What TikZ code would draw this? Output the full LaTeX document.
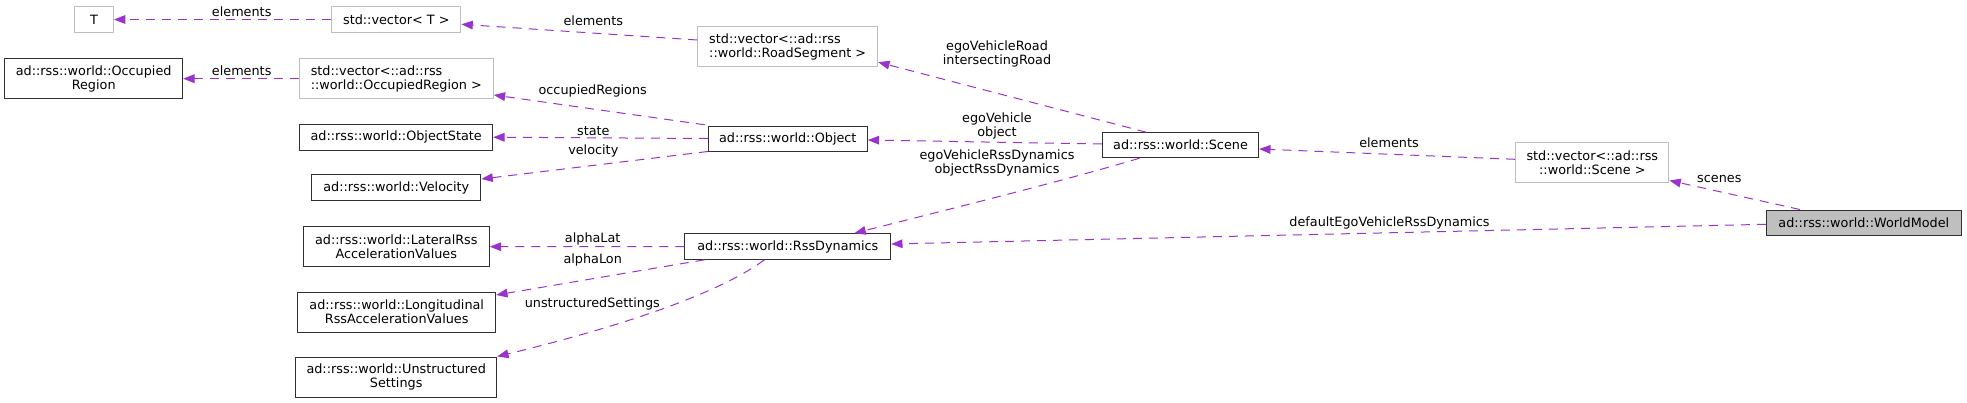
\documentclass[tikz,border=0pt]{standalone}
\usepackage{fontspec}
\setmainfont{DejaVu Sans}
\usetikzlibrary{arrows.meta,calc}
\definecolor{edgec}{HTML}{9A32CD}
\definecolor{tmplc}{HTML}{BFBFBF}
\definecolor{boxc}{HTML}{303030}
\begin{document}
\begin{tikzpicture}[x=0.75pt,y=-0.75pt,
  font=\fontsize{9.6pt}{10.7pt}\selectfont,
  cls/.style={draw=boxc, line width=0.75pt, inner sep=0pt, align=center, fill=white},
  tmpl/.style={draw=tmplc, line width=0.75pt, inner sep=0pt, fill=white},
  sel/.style={cls, fill=tmplc},
  sz/.style 2 args={minimum width=#1*0.75pt, minimum height=#2*0.75pt},
  rel/.style={draw=edgec, line width=0.75pt, dash pattern=on 6.75pt off 5.25pt, -{Triangle[length=8.5pt,width=6.5pt]}},
  lbl/.style={inner sep=0pt, align=center}]
\path[use as bounding box] (0,0) rectangle (1967,403);

% nodes
\node[tmpl, sz={39}{25.7}, align=center] (T) at (94,19.5) {T};
\node[tmpl, sz={129.3}{25.7}, align=center] (vecT) at (396.3,19.5) {std::vector< T >};
\node[cls, sz={178}{40}] (OccReg) at (93.7,78.7) {ad::rss::world::Occupied\\Region};
\node[tmpl, sz={194}{40}, align=left] (vecOR) at (396.3,78.7) {std::vector<::ad::rss\\::world::OccupiedRegion >};
\node[cls, sz={193}{25.7}] (ObjState) at (396.2,137.2) {ad::rss::world::ObjectState};
\node[cls, sz={169.3}{26}] (Velocity) at (396.3,187.7) {ad::rss::world::Velocity};
\node[cls, sz={186}{40}] (Lateral) at (396.3,246.7) {ad::rss::world::LateralRss\\AccelerationValues};
\node[cls, sz={198}{40}] (Longitudinal) at (396.7,312) {ad::rss::world::Longitudinal\\RssAccelerationValues};
\node[cls, sz={201}{40}] (Unstructured) at (396.2,377) {ad::rss::world::Unstructured\\Settings};
\node[tmpl, sz={180}{40}, align=left] (vecRS) at (787.7,46.7) {std::vector<::ad::rss\\::world::RoadSegment >};
\node[cls, sz={159}{25}] (Object) at (787.8,138.5) {ad::rss::world::Object};
\node[cls, sz={205.7}{25.6}] (RssDyn) at (787.8,246.5) {ad::rss::world::RssDynamics};
\node[cls, sz={156.3}{25}] (Scene) at (1180.5,145.2) {ad::rss::world::Scene};
\node[tmpl, sz={153.3}{40}, align=center] (vecScene) at (1592.3,162.7) {std::vector<::ad::rss\\::world::Scene >};
\node[sel, sz={195}{25}] (WorldModel) at (1863.8,222.5) {ad::rss::world::WorldModel};

% connectors
\draw[rel] (vecT.west) -- (T.east);
\draw[rel] ($(vecRS.west)+(0,-6.7)$) -- ($(vecT.east)+(0,4.8)$);
\draw[rel] (vecOR.west) -- (OccReg.east);
\draw[rel] ($(Object.north west)+(-3,-0.7)$) -- ($(vecOR.east)+(0,16.3)$);
\draw[rel] (Object.west) -- (ObjState.east);
\draw[rel] (Object.south west) -- ($(Velocity.east)+(0,-8.7)$);
\draw[rel] ($(Scene.north west)+(44.4,0)$) -- ($(vecRS.south east)+(0,-5)$);
\draw[rel] ($(Scene.west)+(0,-1.2)$) -- ($(Object.east)+(0,1.5)$);
\draw[rel] ($(Scene.south west)+(37.7,0)$) .. controls (1060,182) and (930,214) .. ($(RssDyn.north west)+(170,0)$);
\draw[rel] ($(vecScene.west)+(0,-3.4)$) -- ($(Scene.east)+(0,3.8)$);
\draw[rel] ($(WorldModel.north west)+(34,0)$) -- ($(vecScene.south east)+(0,-2.7)$);
\draw[rel] ($(WorldModel.west)+(0,1.8)$) -- ($(RssDyn.east)+(0,-2.5)$);
\draw[rel] (RssDyn.west) -- (Lateral.east);
\draw[rel] ($(RssDyn.south west)+(20,0)$) -- ($(Longitudinal.east)+(0,-17)$);
\draw[rel] ($(RssDyn.south west)+(80,0)$) .. controls (710,300) and (590,334) .. (Unstructured.north east);

% labels
\node[lbl] (l1) at (241.7,11.7) {elements};
\node[lbl] (l2) at (593.3,20.7) {elements};
\node[lbl] (l3) at (241.7,70.7) {elements};
\node[lbl] (l4) at (592.7,90.7) {occupiedRegions};
\node[lbl] (l5) at (593.3,130.7) {state};
\node[lbl] (l6) at (593.3,150.7) {velocity};
\node[lbl] (l7) at (997,53.7) {egoVehicleRoad\\intersectingRoad};
\node[lbl] (l8) at (997,125.7) {egoVehicle\\object};
\node[lbl] (l9) at (997,163.2) {egoVehicleRssDynamics\\objectRssDynamics};
\node[lbl] (l10) at (1389,142.3) {elements};
\node[lbl] (l11) at (1719.3,178.7) {scenes};
\node[lbl] (l12) at (1389.5,223.3) {defaultEgoVehicleRssDynamics};
\node[lbl] (l13) at (592.7,239) {alphaLat};
\node[lbl] (l14) at (592.7,260) {alphaLon};
\node[lbl] (l15) at (592.3,304) {unstructuredSettings};
\end{tikzpicture}
\end{document}
